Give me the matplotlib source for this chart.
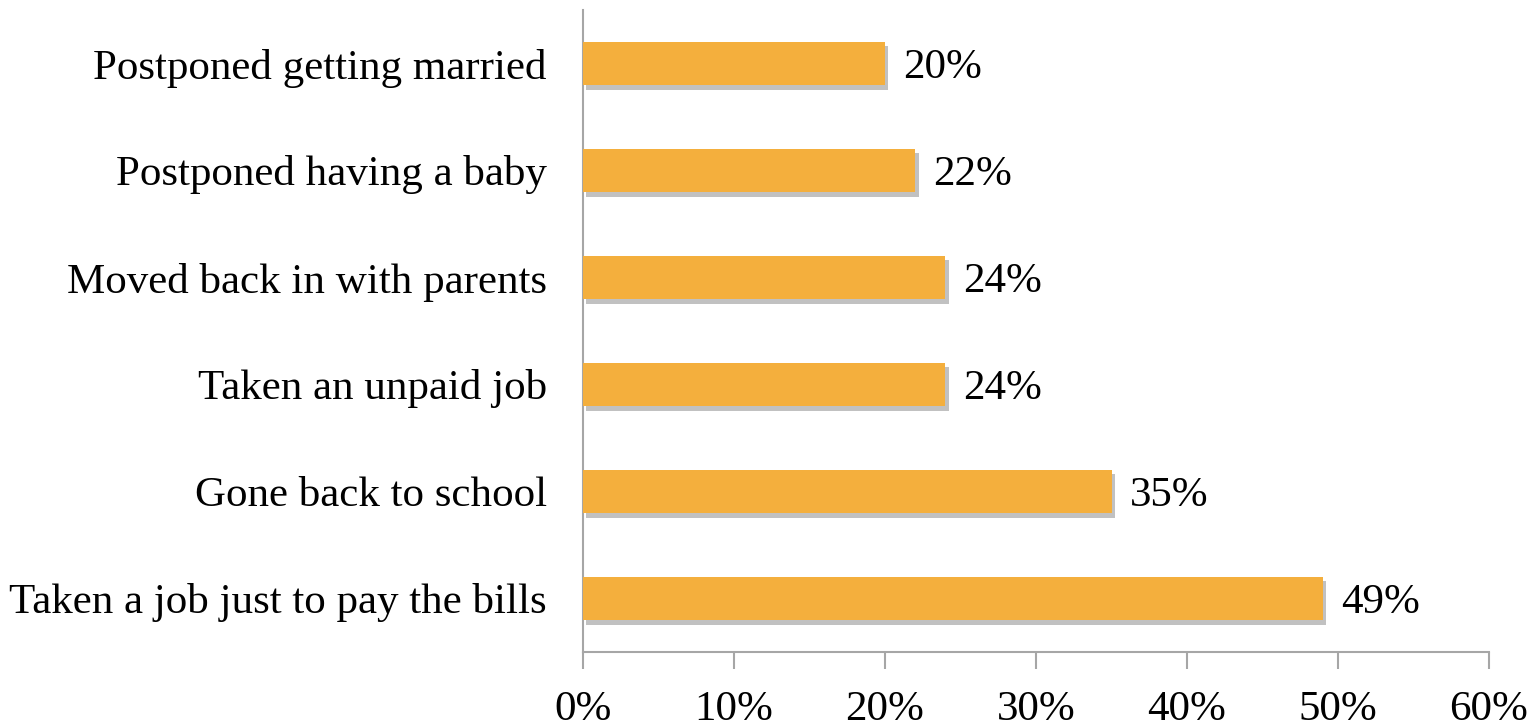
import matplotlib
matplotlib.use("Agg")
import matplotlib.pyplot as plt
import matplotlib.patheffects as pe
from matplotlib.ticker import FuncFormatter

categories = ["Taken a job just to pay the bills", "Gone back to school", "Taken an unpaid job",
              "Moved back in with parents", "Postponed having a baby", "Postponed getting married"]
values = [49, 35, 24, 24, 22, 20]
xticks = [0, 10, 20, 30, 40, 50, 60]

plt.rcParams['font.family'] = ['Liberation Serif', 'DejaVu Serif']

fig = plt.figure(figsize=(15.37, 7.28), dpi=100)
ax = fig.add_axes([583/1537, 1 - 652/728, (1489-583)/1537, (652-10)/728])

bars = ax.barh(range(len(categories)), values, height=0.41, color="#F4AF3D", zorder=3)
for b in bars:
    b.set_path_effects([pe.SimplePatchShadow(offset=(2.5, -3), shadow_rgbFace="#666666", alpha=0.4),
                        pe.Normal()])

for i, v in enumerate(values):
    ax.text(v + 1.2, i, f"{v}%", va="center_baseline", ha="left", fontsize=31, color="black")

ax.set_xlim(0, 60)
ax.set_ylim(-0.5, len(categories) - 0.5)
ax.set_yticks(range(len(categories)))
ax.set_yticklabels(categories, fontsize=31, va="center_baseline")
ax.set_xticks(xticks)
ax.xaxis.set_major_formatter(FuncFormatter(lambda x, p: f"{int(x)}%"))
ax.tick_params(axis='x', labelsize=31, length=12, width=1.5, color="#A6A6A6", pad=16, direction='out')
ax.tick_params(axis='y', length=0, pad=26)

for s in ["top", "right"]:
    ax.spines[s].set_visible(False)
for s in ["left", "bottom"]:
    ax.spines[s].set_color("#A6A6A6")
    ax.spines[s].set_linewidth(1.5)

fig.savefig("out.png", dpi=100, facecolor="white")
